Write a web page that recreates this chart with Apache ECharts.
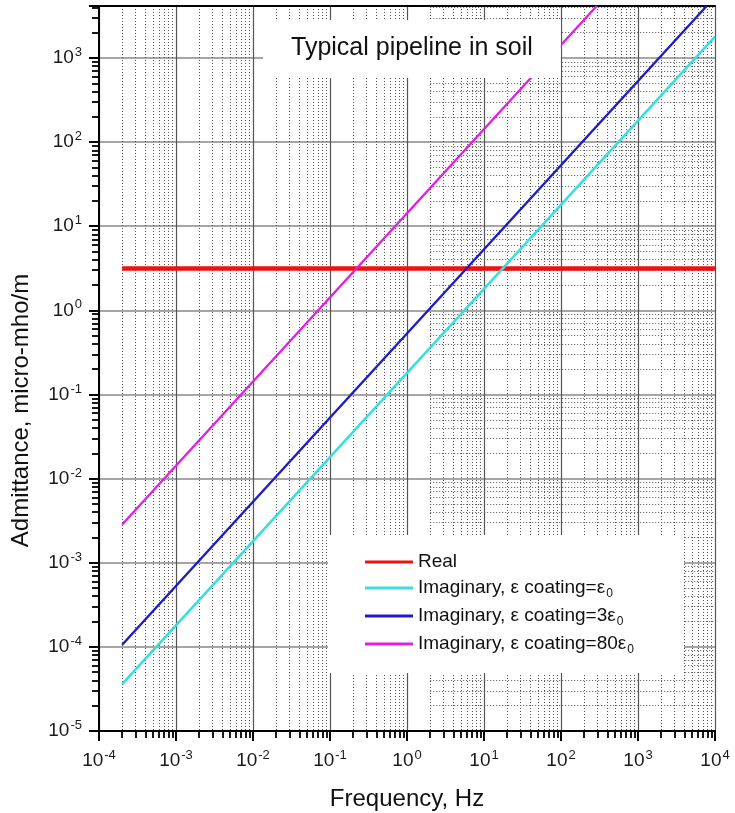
<!DOCTYPE html>
<html>
<head>
<meta charset="utf-8">
<script src="https://cdn.jsdelivr.net/npm/echarts@6/dist/echarts.min.js"></script>
<style>
html,body{margin:0;padding:0;background:#fff;}
#chart{width:735px;height:813px;}
</style>
</head>
<body>
<div id="chart"></div>
<script>
// ---- data ----
const seriesNames = ['Real', 'Imaginary, ε coating=ε0', 'Imaginary, ε coating=3ε0', 'Imaginary, ε coating=80ε0'];
const seriesColors = ['#ee1111', '#3adede', '#1c1cc8', '#e020e0'];
const realFreq = [2e-4, 1e4];
const realVals = [3.15, 3.15];
const cyanFreq = [2e-4, 1e4];
const cyanVals = [3.6e-5, 1800];
const blueFreq = [2e-4, 7800];
const blueVals = [1.06e-4, 4150];
const magentaFreq = [2e-4, 291];
const magentaVals = [2.85e-3, 4150];

const xMin = 1e-4, xMax = 1e4;
const yMin = 1e-5, yMax = 4150;
const xDecades = [-4, -3, -2, -1, 0, 1, 2, 3, 4];
const yDecades = [-5, -4, -3, -2, -1, 0, 1, 2, 3];
const minorMult = [2, 3, 4, 5, 6, 7, 8, 9];

const titleText = 'Typical pipeline in soil';
const xName = 'Frequency, Hz';
const yName = 'Admittance, micro-mho/m';

// ---- build ----
const FONT = 'Liberation Sans, Arial, sans-serif';
const lx = Math.log10(xMin), ux = Math.log10(xMax);
const ly = Math.log10(yMin), uy = Math.log10(yMax);
function minors(decs, lo, hi) {
  const out = [];
  decs.forEach(d => minorMult.forEach(k => { const v = d + Math.log10(k); if (v > lo && v < hi) out.push(v); }));
  return out;
}
const xMinor = minors(xDecades, lx, ux);
const yMinor = minors(yDecades, ly, uy);

const G = {left: 99, right: 20, top: 6, bottom: 82};
const plotW = 735 - G.left - G.right;
const subLeft = G.left + (Math.log10(2) - lx) / (ux - lx) * plotW;

const expRich = {
  b: {fontSize: 19, fontFamily: FONT, color: '#1a1a1a'},
  s: {fontSize: 13, fontFamily: FONT, color: '#1a1a1a', padding: [0, 0, 11, 1]}
};
function expFmt(v) {
  const r = Math.round(v);
  if (Math.abs(v - r) > 1e-6) return '';
  return '{b|10}{s|' + r + '}';
}
const pair = (f, v) => f.map((x, i) => [x, v[i]]);
const lineData = [pair(realFreq, realVals), pair(cyanFreq, cyanVals), pair(blueFreq, blueVals), pair(magentaFreq, magentaVals)];
const widths = [4.5, 2.6, 2.4, 2.4];

const chart = echarts.init(document.getElementById('chart'), null, {renderer: 'canvas'});
chart.setOption({
  backgroundColor: '#fff',
  animation: false,
  title: {
    text: titleText, left: 263, top: 20, padding: [16, 28, 17, 28],
    backgroundColor: '#fff',
    textStyle: {fontSize: 25, fontWeight: 'normal', color: '#111', fontFamily: FONT}
  },
  legend: {
    data: seriesNames, orient: 'vertical', left: 328, top: 535,
    backgroundColor: '#fff', padding: [17, 50, 17, 37],
    icon: 'rect', itemWidth: 48, itemHeight: 3, itemGap: 6,
    formatter: n => n.replace(/ε0$/, 'ε{s|0}'),
    textStyle: {fontSize: 19, lineHeight: 20, color: '#111', fontFamily: FONT, rich: {
      s: {fontSize: 12, fontFamily: FONT, color: '#111', padding: [12, 0, 0, 1]}
    }}
  },
  grid: [
    {left: G.left, right: G.right, top: G.top, bottom: G.bottom, outerBoundsMode: 'none', containLabel: false},
    {left: subLeft, right: G.right, top: G.top, bottom: G.bottom, outerBoundsMode: 'none', containLabel: false}
  ],
  xAxis: [
    {type: 'log', gridIndex: 0, min: xMin, max: xMax, position: 'top',
     axisLine: {show: true, onZero: false, lineStyle: {color: '#000', width: 2}},
     axisTick: {show: false}, axisLabel: {show: false}, splitLine: {show: false}},
    {type: 'value', gridIndex: 0, min: lx, max: ux, interval: 1, position: 'bottom',
     name: xName, nameLocation: 'middle', nameGap: 56,
     nameTextStyle: {fontSize: 24, color: '#111', fontFamily: FONT},
     axisLine: {show: true, onZero: false, lineStyle: {color: '#000', width: 2}},
     axisTick: {show: true, inside: false, length: 10, lineStyle: {color: '#000', width: 2}},
     axisLabel: {margin: 18, formatter: expFmt, rich: expRich},
     splitLine: {show: true, lineStyle: {color: '#555', width: 1.2}}},
    {type: 'value', gridIndex: 0, min: lx, max: ux, position: 'bottom',
     axisLine: {show: false, onZero: false},
     axisTick: {show: true, length: 7, customValues: xMinor, lineStyle: {color: '#000', width: 1.8}},
     axisLabel: {show: false},
     splitLine: {show: true, lineStyle: {color: '#555', width: 1, type: [1, 2]}}},
    {type: 'value', gridIndex: 1, min: Math.log10(2), max: ux, show: false}
  ],
  yAxis: [
    {type: 'log', gridIndex: 0, min: yMin, max: yMax, show: false},
    {type: 'value', gridIndex: 0, min: ly, max: uy, interval: 1, position: 'left',
     name: yName, nameLocation: 'middle', nameGap: 66, nameRotate: 90,
     nameTextStyle: {fontSize: 24, color: '#111', fontFamily: FONT, padding: [0, 84, 0, 0]},
     axisLine: {show: true, onZero: false, lineStyle: {color: '#000', width: 2}},
     axisTick: {show: true, length: 10, lineStyle: {color: '#000', width: 2}},
     axisLabel: {margin: 17, formatter: expFmt, rich: expRich},
     splitLine: {show: true, lineStyle: {color: '#888', width: 1.5}}},
    {type: 'value', gridIndex: 0, min: ly, max: uy, position: 'left',
     axisLine: {show: false, onZero: false},
     axisTick: {show: true, length: 7, customValues: yMinor, lineStyle: {color: '#000', width: 1.8}},
     axisLabel: {show: false}, splitLine: {show: false}},
    {type: 'value', gridIndex: 1, min: ly, max: uy, position: 'left',
     axisLine: {show: false, onZero: false},
     axisTick: {show: false, customValues: yMinor},
     axisLabel: {show: false},
     splitLine: {show: true, lineStyle: {color: '#555', width: 1, type: [1, 2]}}}
  ],
  series: seriesNames.map((n, i) => ({
    name: n, type: 'line', xAxisIndex: 0, yAxisIndex: 0,
    data: lineData[i], showSymbol: false, symbol: 'none', clip: true,
    lineStyle: {color: seriesColors[i], width: widths[i]},
    itemStyle: {color: seriesColors[i]}, z: 3
  }))
});
</script>
</body>
</html>
